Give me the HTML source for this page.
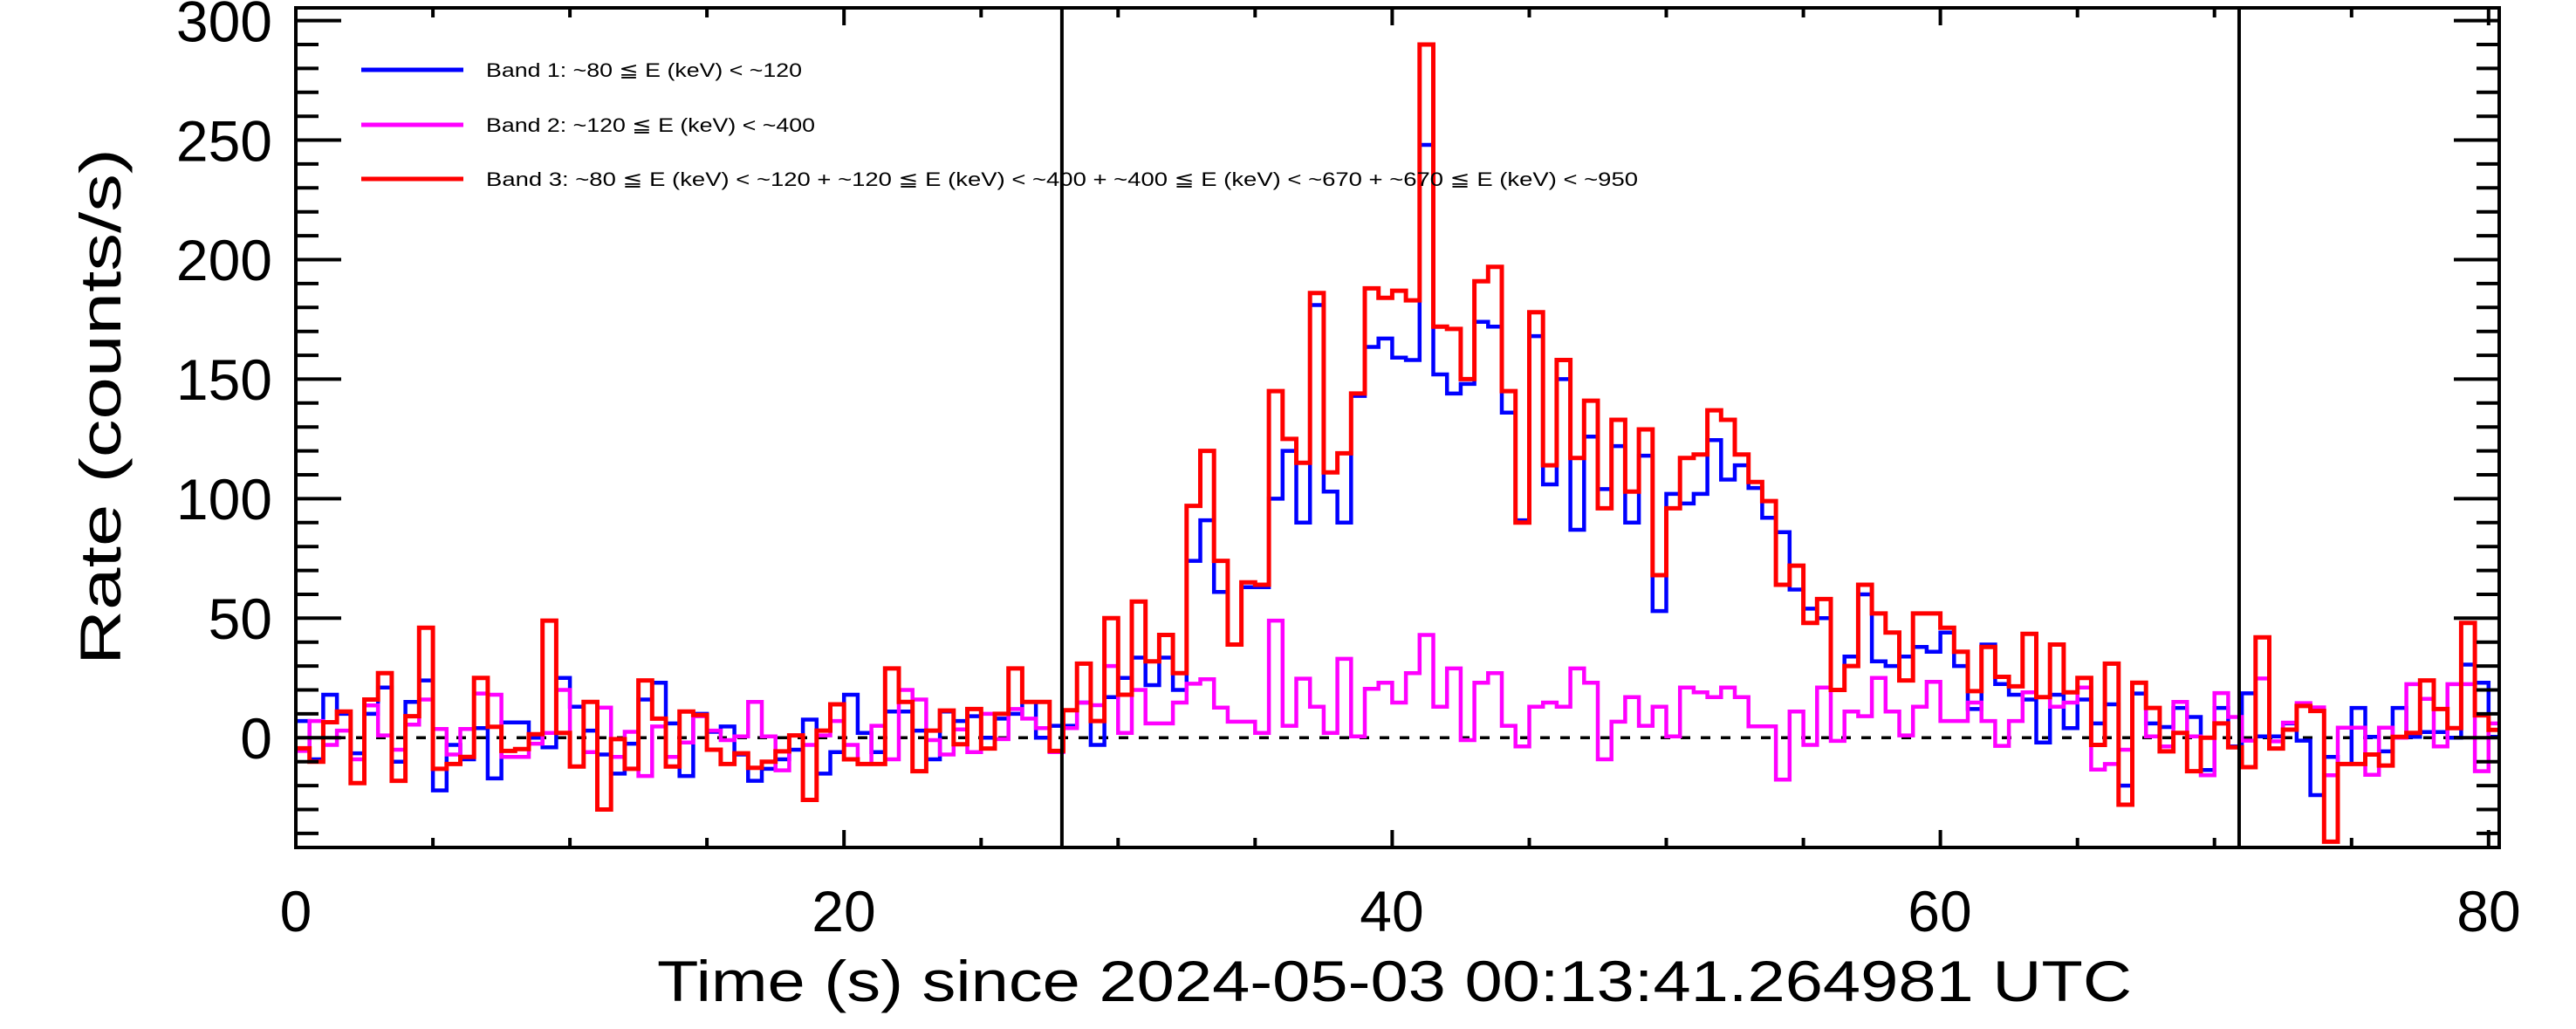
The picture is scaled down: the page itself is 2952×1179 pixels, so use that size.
<!DOCTYPE html>
<html><head><meta charset="utf-8"><style>
html,body{margin:0;padding:0;background:#fff;}
svg{display:block;}
text{font-family:"Liberation Sans","DejaVu Sans",sans-serif;fill:#000;}
</style></head><body>
<svg id="s" xmlns="http://www.w3.org/2000/svg" width="2952" height="1179" viewBox="0 0 2952 1179">
<rect width="2952" height="1179" fill="#fff"/>
<defs><clipPath id="c"><rect x="339" y="9" width="2525" height="962"/></clipPath></defs>
<g id="data" clip-path="url(#c)"></g>
<g id="axes"></g>
<g font-size="66">
<text x="312" y="869" text-anchor="end">0</text>
<text x="312" y="869" text-anchor="end" transform="translate(0,-136.95)">50</text>
<text x="312" y="869" text-anchor="end" transform="translate(0,-273.9)">100</text>
<text x="312" y="869" text-anchor="end" transform="translate(0,-410.85)">150</text>
<text x="312" y="869" text-anchor="end" transform="translate(0,-547.8)">200</text>
<text x="312" y="869" text-anchor="end" transform="translate(0,-684.75)">250</text>
<text x="312" y="869" text-anchor="end" transform="translate(0,-821.7)">300</text>
<text x="339" y="1067" text-anchor="middle">0</text>
<text x="967" y="1067" text-anchor="middle">20</text>
<text x="1595" y="1067" text-anchor="middle">40</text>
<text x="2223" y="1067" text-anchor="middle">60</text>
<text x="2852" y="1067" text-anchor="middle">80</text>
<text x="753" y="1147" textLength="1690" lengthAdjust="spacingAndGlyphs">Time (s) since 2024-05-03 00:13:41.264981 UTC</text>
<text x="0" y="0" transform="translate(138,762) rotate(-90)" textLength="592" lengthAdjust="spacingAndGlyphs">Rate (counts/s)</text>
</g>
<g stroke-width="5">
<line x1="414" y1="80" x2="531" y2="80" stroke="#0000ff"/>
<line x1="414" y1="143" x2="531" y2="143" stroke="#ff00ff"/>
<line x1="414" y1="205" x2="531" y2="205" stroke="#ff0000"/>
</g>
<g font-size="22">
<text x="557" y="88" textLength="362" lengthAdjust="spacingAndGlyphs">Band 1: ~80 ≦ E (keV) &lt; ~120</text>
<text x="557" y="151" textLength="377" lengthAdjust="spacingAndGlyphs">Band 2: ~120 ≦ E (keV) &lt; ~400</text>
<text x="557" y="213" textLength="1320" lengthAdjust="spacingAndGlyphs">Band 3: ~80 ≦ E (keV) &lt; ~120 + ~120 ≦ E (keV) &lt; ~400 + ~400 ≦ E (keV) &lt; ~670 + ~670 ≦ E (keV) &lt; ~950</text>
</g>
</svg>
<script>
var X=function(t){return 339+31.41*t;},Y=function(v){return 845.3-2.739*v;};
var R=[-4.4,-10,6.5,11,-19,16,27,-18,9,46,-13,-11,-8,25,4.6,-5.5,-4.7,1.5,49,2,-12,15,-30,-0.6,-13,24,8,-12,11,9.5,-5,
-11,-6.5,-12.6,-10,-5.7,1,-26,3,14,-9,-11,-11,29,15,-14,3,11.4,-2.7,12,-4.5,10,29,15,15,-5.5,
11.5,31,7,50,18,57,32,43,27,97,120,74,39,65,64,145,125,115,186,111,119,144,188,184,187,183,290,172,171,150,191,197,145,90,178,114,158,117,141,96,133,103,129,68,
96,117,118.5,137,133,118.5,107,99,64,72,48,58,20,30,64,52,44,24,52,52,46,36,19.5,38,25.5,21.5,43.5,17,39,19,25,-3,31,-28,23,12.5,
-5.7,2,-14,0,6,-4,-12.3,42,-4.5,3.4,13.3,11.2,-43.5,-11,-11,-7,-11.6,0.4,2,24,12,4,48,9.4,3.3];
var B=[7,-9,18,10,-6.5,10,21,-10,15,24,-22,-3,-9,4,-17,6.4,6.4,0,-4,25,13,3,-7,-15,-2.5,16,23,6,-16,10,2.5,4.7,-7,-18,-13,-9,-5,7.6,-15,-6,18,2,-6,11,11,3,-9,11,7,9,0,8,10,15,0,5,
5,14.7,-3,17,25,33.5,22,33.5,20,74,91,61,39,63,63,100,120,90,181,103,90,143,163.5,167,159,158,248,152,144,148,174,172,136,91,168,106,150,87,126,104,122,90,118,53,
102,98,102,124.5,108,114,104.5,92,86,62,54,50,20,34,60,32,30,34,38,36,44,30,12,39,22.5,18,16,-2,18,4,16,
6,14,-20,18.5,6,4.5,12.5,8.7,-13.5,12.5,-3.6,18.6,0.6,0.6,6,-1.2,-24,-8,-11,12.5,0.4,-5.7,12.5,0.4,2.4,2.4,0,30.6,23,0.4];
var M=[-5.5,7,-3,3,-9,13.5,1,-5,5.5,16,3.7,-7,3.7,18.5,18,-8,-8,-2.5,2,20,-12,-6,12.6,-8,2.5,-16,4.7,-8,-2,9,3,-1,0.6,15,0.6,-13.6,1,-3,1,7,-3,-11,5,-9,20,16,-1,-7,3.5,-6,10,-0.6,12,8,4,-6,
4,14.7,13.6,30,2,20,6,6,14.7,22.6,24.5,12.6,6.7,6.7,2,49,5,24.7,13,2,33,0.6,20.5,23,14.7,27,43,13,29,-1,23,27,5,-3.6,13,14.7,13,29,23,-9,6.7,17,5,13,
0.6,21,19,17,21,17,4.8,4.8,-17.5,11,-3,21,-1.3,11,9,25,11,1,13,23.4,7,7,14.7,7,-3.4,7,19,17,13,14.7,21,
-13.3,-11,-5,23,0.6,-3.6,15,0.6,-15.7,18.7,8.7,-1.2,24.8,-1.5,6.3,14.5,12.7,-15.7,4.2,4.2,-15.5,4.2,0,22.4,16.3,-3.6,22.4,22.4,-14,6];
var NS="http://www.w3.org/2000/svg";
function el(p,tag,a){var e=document.createElementNS(NS,tag);for(var k in a)e.setAttribute(k,a[k]);p.appendChild(e);return e;}
function step(d){var s="M"+X(0).toFixed(1)+","+Y(d[0]).toFixed(1);for(var i=0;i<d.length;i++){if(i>0)s+="V"+Y(d[i]).toFixed(1);s+="H"+X(0.5*(i+1)).toFixed(1);}return s;}
var g=document.getElementById("data");
el(g,"line",{x1:339,y1:Y(0),x2:2864,y2:Y(0),stroke:"#000","stroke-width":3.5,"stroke-dasharray":"11 12"});
el(g,"path",{d:step(B),fill:"none",stroke:"#0000ff","stroke-width":4.5});
el(g,"path",{d:step(M),fill:"none",stroke:"#ff00ff","stroke-width":4.5});
el(g,"path",{d:step(R),fill:"none",stroke:"#ff0000","stroke-width":5});
var a=document.getElementById("axes");
el(a,"line",{x1:X(27.95),y1:9,x2:X(27.95),y2:971,stroke:"#000","stroke-width":4});
el(a,"line",{x1:X(70.9),y1:9,x2:X(70.9),y2:971,stroke:"#000","stroke-width":4});
el(a,"rect",{x:339,y:9,width:2525,height:962,fill:"none",stroke:"#000","stroke-width":4});
var p="";
for(var v=-40;v<=300;v+=10){var y=Y(v).toFixed(1);var L=(v%50==0)?52:26;p+="M339,"+y+"h"+L+"M2864,"+y+"h-"+L;}
for(var t=0;t<=80;t+=5){var x=X(t).toFixed(1);var L=(t%20==0)?20:11;p+="M"+x+",971v-"+L+"M"+x+",9v"+L;}
el(a,"path",{d:p,stroke:"#000","stroke-width":4,fill:"none"});
</script>
</body></html>
